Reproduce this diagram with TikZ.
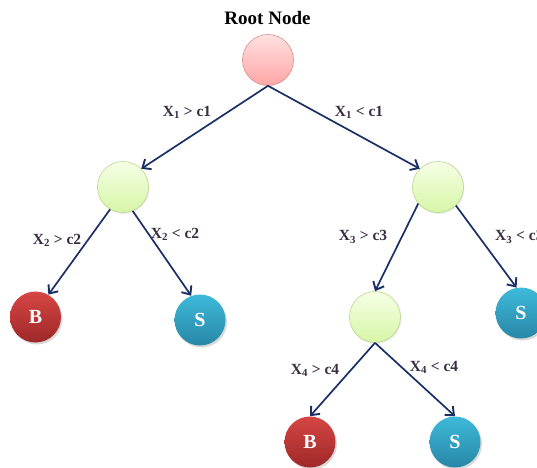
\documentclass[tikz,border=0pt]{standalone}
\usepackage{fontspec}
\setmainfont{Liberation Serif}
\usetikzlibrary{arrows.meta,shadows}
\definecolor{arrowc}{HTML}{1A2F66}
\definecolor{labc}{HTML}{3A2C42}
\tikzset{
  circ/.style={circle, minimum size=51pt, inner sep=0pt, line width=0.6pt, font=\bfseries\fontsize{20}{20}\selectfont, text=white},
  rootnode/.style={circ, top color=red!12, bottom color=red!35, draw={rgb,255:red,215;green,140;blue,140}},
  testnode/.style={circ, draw={rgb,255:red,185;green,215;blue,140}, top color={rgb,255:red,246;green,255;blue,230}, bottom color={rgb,255:red,214;green,246;blue,166},
     drop shadow={shadow xshift=1pt, shadow yshift=-1.5pt, opacity=0.15}},
  bnode/.style={circ, draw=none, top color={rgb,255:red,214;green,70;blue,68}, bottom color={rgb,255:red,158;green,40;blue,40},
     drop shadow={shadow xshift=1.5pt, shadow yshift=-2pt, opacity=0.3}},
  snode/.style={circ, draw=none, top color={rgb,255:red,62;green,186;blue,218}, bottom color={rgb,255:red,40;green,134;blue,166},
     drop shadow={shadow xshift=1.5pt, shadow yshift=-2pt, opacity=0.3}},
  edge/.style={draw=arrowc, line width=1.7pt, -{Straight Barb[length=7pt,width=12pt,line width=1.9pt]}},
  lab/.style={text=labc, font=\bfseries\fontsize{15.5}{15.5}\selectfont, inner sep=0pt},
}
\begin{document}
\begin{tikzpicture}[x=1pt,y=-1pt]
\useasboundingbox (0,0) rectangle (537,467);
\node[font=\bfseries\fontsize{19}{19}\selectfont] (title) at (267.5,18) {Root Node};
\node[rootnode] (root) at (268,60) {};
\node[testnode] (l1) at (123,187) {};
\node[testnode] (r1) at (438,187) {};
\node[bnode] (b1) at (35.5,317) {B};
\node[snode] (s1) at (200,320) {S};
\node[testnode] (m) at (375,317) {};
\node[snode] (s2) at (521,313) {S};
\node[bnode] (b2) at (310,442) {B};
\node[snode] (s3) at (455,442) {S};
\draw[edge] (root.south) -- (l1.45);
\draw[edge] (root.south) -- (r1.135);
\draw[edge] (l1.240) -- (b1.60);
\draw[edge] (l1.292) -- (s1.110);
\draw[edge] (r1.220) -- (m.north);
\draw[edge] (r1.314) -- (s2.100);
\draw[edge] (m.south) -- (b2.north);
\draw[edge] (m.south) -- (s3.north);
\node[lab] (t1) at (187,112) {X\textsubscript{1} > c1};
\node[lab] (t2) at (359,112) {X\textsubscript{1} < c1};
\node[lab] (t3) at (57,240) {X\textsubscript{2} > c2};
\node[lab] (t4) at (175,234) {X\textsubscript{2} < c2};
\node[lab] (t5) at (363,237) {X\textsubscript{3} > c3};
\node[lab, anchor=west] (t6) at (495,237) {X\textsubscript{3} < c3};
\node[lab] (t7) at (315,370) {X\textsubscript{4} > c4};
\node[lab] (t8) at (434,367) {X\textsubscript{4} < c4};
\end{tikzpicture}
\end{document}
